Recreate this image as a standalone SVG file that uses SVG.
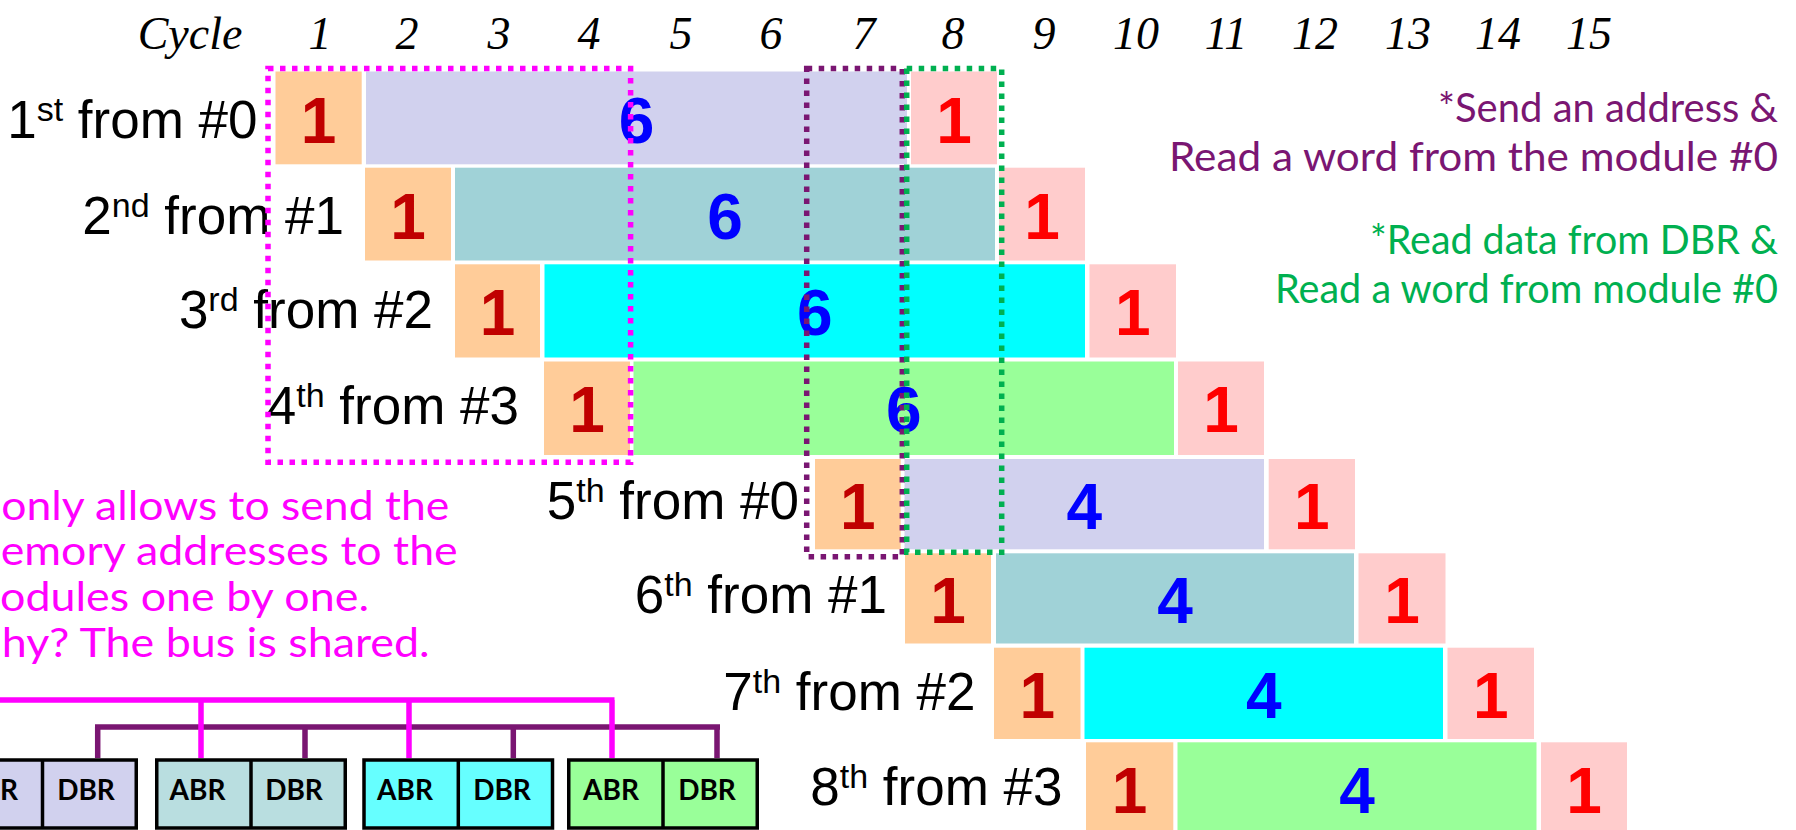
<svg xmlns="http://www.w3.org/2000/svg" width="1796" height="830" viewBox="0 0 1796 830">
<defs>
<style>
.hdr{font-family:"Liberation Serif","Times New Roman",serif;font-style:italic;font-size:46px;fill:#000;text-anchor:middle}
.lbl{font-family:"Liberation Sans",Arial,sans-serif;font-size:53px;fill:#000;text-anchor:end}
.sup{font-size:34px}
.num{font-family:"Liberation Sans",Arial,sans-serif;font-weight:bold;font-size:64px;text-anchor:middle}
.n1{fill:#C00000}.n2{fill:#FF0000}.n6{fill:#0000FF}
.or{fill:#FFCC99}.pk{fill:#FFCCCC}.lv{fill:#D1D1EE}.tl{fill:#A0D2D7}.cy{fill:#00FFFF}.gr{fill:#99FF99}
.dot{fill:none;stroke-width:5.5;stroke-dasharray:5.5 6.5}
.note{font-family:Lato,"Open Sans",sans-serif}
.box{stroke:#000;stroke-width:3.5}
.reg{font-family:Lato,"Open Sans",sans-serif;font-weight:bold;font-size:28px;fill:#000;text-anchor:middle}
.bus{fill:none;stroke-width:5.5}
</style>
</defs>
<rect width="1796" height="830" fill="#fff"/>

<g id="header">
<text class="hdr" x="190" y="48.5">Cycle</text>
<text class="hdr" x="320" y="48.5">1</text>
<text class="hdr" x="407" y="48.5">2</text>
<text class="hdr" x="499" y="48.5">3</text>
<text class="hdr" x="589" y="48.5">4</text>
<text class="hdr" x="681" y="48.5">5</text>
<text class="hdr" x="771" y="48.5">6</text>
<text class="hdr" x="864" y="48.5">7</text>
<text class="hdr" x="953" y="48.5">8</text>
<text class="hdr" x="1044" y="48.5">9</text>
<text class="hdr" x="1136" y="48.5">10</text>
<text class="hdr" x="1226" y="48.5">11</text>
<text class="hdr" x="1315" y="48.5">12</text>
<text class="hdr" x="1408" y="48.5">13</text>
<text class="hdr" x="1498" y="48.5">14</text>
<text class="hdr" x="1589" y="48.5">15</text>
</g>

<g id="row1">
<rect class="or" x="275.5" y="71.5" width="86.2" height="92.8"/>
<rect class="lv" x="366" y="71.5" width="541" height="92.8"/>
<rect class="pk" x="911" y="71.5" width="86" height="92.8"/>
<text class="lbl" x="257.5" y="138.3">1<tspan class="sup" dy="-17">st</tspan><tspan dy="17"> from #0</tspan></text>
<text class="num n1" x="318.6" y="142.7">1</text>
<text class="num n6" x="636.5" y="142.7">6</text>
<text class="num n2" x="954" y="142.7">1</text>
</g>

<g id="row2">
<rect class="or" x="365" y="167.7" width="86" height="92.8"/>
<rect class="tl" x="455" y="167.7" width="540" height="92.8"/>
<rect class="pk" x="999" y="167.7" width="86" height="92.8"/>
<text class="lbl" x="344" y="233.5">2<tspan class="sup" dy="-17">nd</tspan><tspan dy="17"> from #1</tspan></text>
<text class="num n1" x="408" y="238.5">1</text>
<text class="num n6" x="725" y="238.5">6</text>
<text class="num n2" x="1042" y="238.5">1</text>
</g>

<g id="row3">
<rect class="or" x="455" y="264.3" width="85" height="93.2"/>
<rect class="cy" x="544.5" y="264.3" width="540.5" height="93.2"/>
<rect class="pk" x="1089.5" y="264.3" width="86.5" height="93.2"/>
<text class="lbl" x="433" y="328.3">3<tspan class="sup" dy="-17">rd</tspan><tspan dy="17"> from #2</tspan></text>
<text class="num n1" x="497.5" y="335">1</text>
<text class="num n6" x="814.75" y="335">6</text>
<text class="num n2" x="1132.75" y="335">1</text>
</g>

<g id="row4">
<rect class="or" x="544" y="361.5" width="86" height="93.5"/>
<rect class="gr" x="633.5" y="361.5" width="540.5" height="93.5"/>
<rect class="pk" x="1178" y="361.5" width="86" height="93.5"/>
<text class="lbl" x="519" y="424.3">4<tspan class="sup" dy="-17">th</tspan><tspan dy="17"> from #3</tspan></text>
<text class="num n1" x="587" y="432">1</text>
<text class="num n6" x="903.75" y="432">6</text>
<text class="num n2" x="1221" y="432">1</text>
</g>

<g id="row5">
<rect class="or" x="815" y="459" width="85.7" height="90.3"/>
<rect class="lv" x="904.5" y="459" width="359.5" height="90.3"/>
<rect class="pk" x="1268.7" y="459" width="86.3" height="90.3"/>
<text class="lbl" x="799" y="519">5<tspan class="sup" dy="-17">th</tspan><tspan dy="17"> from #0</tspan></text>
<text class="num n1" x="857.8" y="528.5">1</text>
<text class="num n6" x="1084.25" y="528.5">4</text>
<text class="num n2" x="1311.8" y="528.5">1</text>
</g>

<g id="row6">
<rect class="or" x="905" y="553.3" width="86" height="90.2"/>
<rect class="tl" x="996" y="553.3" width="358" height="90.2"/>
<rect class="pk" x="1358.5" y="553.3" width="87" height="90.2"/>
<text class="lbl" x="887" y="613.3">6<tspan class="sup" dy="-17">th</tspan><tspan dy="17"> from #1</tspan></text>
<text class="num n1" x="948" y="622.5">1</text>
<text class="num n6" x="1175" y="622.5">4</text>
<text class="num n2" x="1402" y="622.5">1</text>
</g>

<g id="row7">
<rect class="or" x="994" y="647.7" width="86.5" height="91.3"/>
<rect class="cy" x="1084.5" y="647.7" width="358.5" height="91.3"/>
<rect class="pk" x="1447.5" y="647.7" width="86.5" height="91.3"/>
<text class="lbl" x="975.5" y="710">7<tspan class="sup" dy="-17">th</tspan><tspan dy="17"> from #2</tspan></text>
<text class="num n1" x="1037.2" y="717.5">1</text>
<text class="num n6" x="1263.75" y="717.5">4</text>
<text class="num n2" x="1490.7" y="717.5">1</text>
</g>

<g id="row8">
<rect class="or" x="1086" y="742.3" width="87.3" height="92"/>
<rect class="gr" x="1177.5" y="742.3" width="359" height="92"/>
<rect class="pk" x="1541" y="742.3" width="86" height="92"/>
<text class="lbl" x="1062.5" y="805">8<tspan class="sup" dy="-17">th</tspan><tspan dy="17"> from #3</tspan></text>
<text class="num n1" x="1129.6" y="812.5">1</text>
<text class="num n6" x="1357" y="812.5">4</text>
<text class="num n2" x="1584" y="812.5">1</text>
</g>

<g id="highlights">
<rect class="dot" stroke="#FF00FF" x="268" y="68.5" width="362.6" height="393.8"/>
<rect class="dot" stroke="#7A1672" x="806.7" y="68.5" width="95.6" height="488.2"/>
<rect class="dot" stroke="#00B050" x="906.7" y="68.5" width="95" height="483.8"/>
</g>

<g id="notes" class="note">
<text x="1778" y="121.7" text-anchor="end" fill="#7A1672" font-size="40" textLength="340" lengthAdjust="spacingAndGlyphs">*Send an address &amp;</text>
<text x="1778" y="170.7" text-anchor="end" fill="#7A1672" font-size="40" textLength="609" lengthAdjust="spacingAndGlyphs">Read a word from the module #0</text>
<text x="1778" y="254" text-anchor="end" fill="#00B050" font-size="40" textLength="408" lengthAdjust="spacingAndGlyphs">*Read data from DBR &amp;</text>
<text x="1778" y="302.7" text-anchor="end" fill="#00B050" font-size="40" textLength="503" lengthAdjust="spacingAndGlyphs">Read a word from module #0</text>
<text x="1.3" y="520" fill="#FF00FF" font-size="41" textLength="448" lengthAdjust="spacingAndGlyphs">only allows to send the</text>
<text x="0.7" y="565" fill="#FF00FF" font-size="41" textLength="457" lengthAdjust="spacingAndGlyphs">emory addresses to the</text>
<text x="0" y="610.5" fill="#FF00FF" font-size="41" textLength="369" lengthAdjust="spacingAndGlyphs">odules one by one.</text>
<text x="1.7" y="656.7" fill="#FF00FF" font-size="41" textLength="428" lengthAdjust="spacingAndGlyphs">hy? The bus is shared.</text>
</g>

<g id="connectors">
<path class="bus" stroke="#7A1672" d="M95 727H720M97.7 727V758M305 727V758M513.3 727V758M717 727V758"/>
<path class="bus" stroke="#FF00FF" d="M-5 700H614.5M201 700V758M409 700V758M612 700V758"/>
</g>

<g id="module0">
<rect class="box lv" x="-52.25" y="760" width="188.5" height="68"/>
<line class="box" x1="42.5" y1="760" x2="42.5" y2="828"/>
<text class="reg" x="-10" y="800">ABR</text>
<text class="reg" x="86" y="800">DBR</text>
</g>
<g id="module1">
<rect class="box" fill="#B9DEE0" x="156.75" y="760" width="188.5" height="68"/>
<line class="box" x1="251" y1="760" x2="251" y2="828"/>
<text class="reg" x="197.5" y="800">ABR</text>
<text class="reg" x="294" y="800">DBR</text>
</g>
<g id="module2">
<rect class="box" fill="#66FFFF" x="364" y="760" width="188.5" height="68"/>
<line class="box" x1="458.3" y1="760" x2="458.3" y2="828"/>
<text class="reg" x="405" y="800">ABR</text>
<text class="reg" x="502" y="800">DBR</text>
</g>
<g id="module3">
<rect class="box gr" x="568.75" y="760" width="188.5" height="68"/>
<line class="box" x1="663" y1="760" x2="663" y2="828"/>
<text class="reg" x="611" y="800">ABR</text>
<text class="reg" x="707" y="800">DBR</text>
</g>
</svg>
